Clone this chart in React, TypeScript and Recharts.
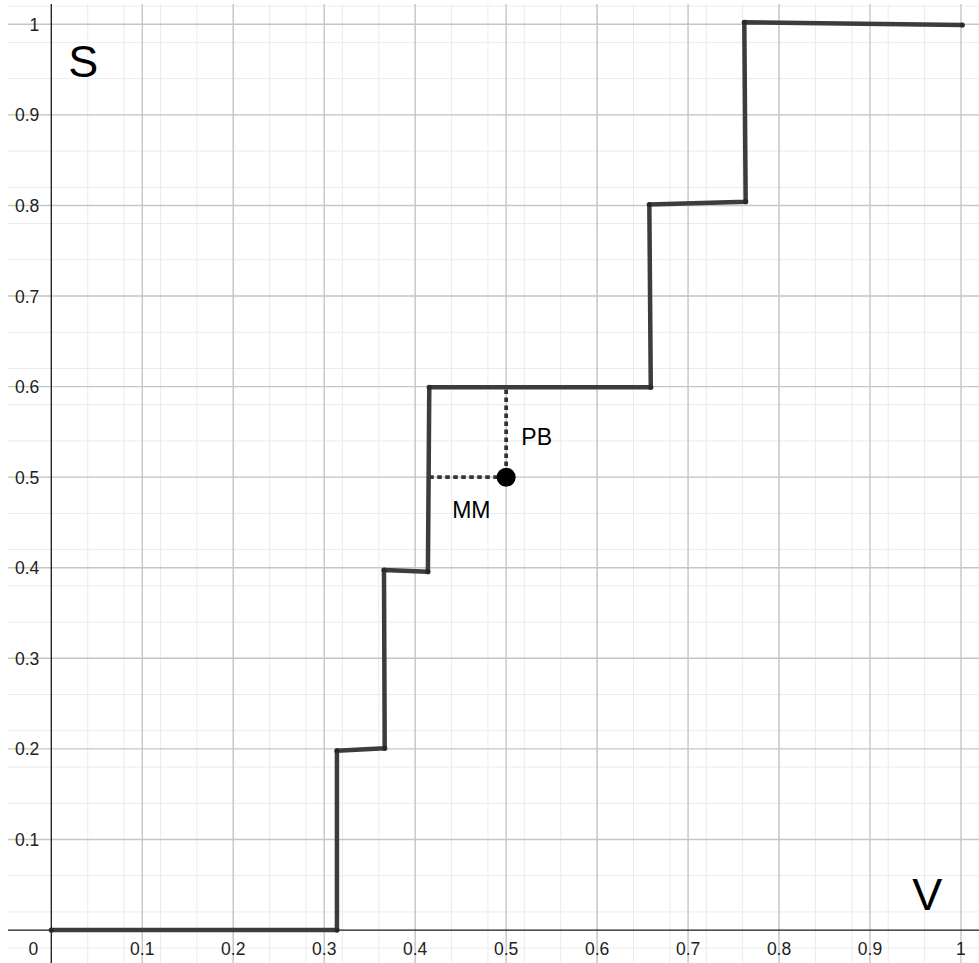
import { CartesianGrid, ComposedChart, Line, ReferenceLine, Scatter, XAxis, YAxis } from 'recharts';

// step curve S(V), corners
const stepV = [0, 0.314, 0.314, 0.3665, 0.3657, 0.414, 0.4155, 0.659, 0.6574, 0.7633, 0.7618, 1.0014];
const stepS = [0, 0, 0.198, 0.2006, 0.3975, 0.3956, 0.5992, 0.5992, 0.801, 0.8041, 1.0022, 0.9992];

// dotted guides MM / PB and the marked point
const guideV = [0.4155, 0.5, 0.5];
const guideS = [0.5, 0.5, 0.6];
const markV = [0.5];
const markS = [0.5];

const xTicks = [0.1, 0.2, 0.3, 0.4, 0.5, 0.6, 0.7, 0.8, 0.9, 1];
const xTickLabels = ['0.1', '0.2', '0.3', '0.4', '0.5', '0.6', '0.7', '0.8', '0.9', '1'];
const yTicks = [0.1, 0.2, 0.3, 0.4, 0.5, 0.6, 0.7, 0.8, 0.9, 1];
const yTickLabels = ['0.1', '0.2', '0.3', '0.4', '0.5', '0.6', '0.7', '0.8', '0.9', '1'];

const axisNames = ['S', 'V'];
const axisNameV = [0.035, 0.963];
const axisNameS = [0.96, 0.0397];

const pointNames = ['PB', 'MM'];
const pointNameV = [0.5336, 0.4617];
const pointNameS = [0.5454, 0.4643];

const stepData = stepV.map((x, i) => ({ x, y: stepS[i] }));
const guideData = guideV.map((x, i) => ({ x, y: guideS[i] }));
const markData = markV.map((x, i) => ({ x, y: markS[i] }));
const xLabelData = xTicks.map((x, i) => ({ x, y: 0, label: xTickLabels[i] }));
const yLabelData = yTicks.map((y, i) => ({ x: 0, y, label: yTickLabels[i] }));
const originData = [{ x: 0, y: 0, label: '0' }];
const axisNameData = axisNames.map((label, i) => ({ x: axisNameV[i], y: axisNameS[i], label }));
const pointNameData = pointNames.map((label, i) => ({ x: pointNameV[i], y: pointNameS[i], label }));

const majorX = [0.1, 0.2, 0.3, 0.4, 0.5, 0.6, 0.7, 0.8, 0.9, 1];
const majorY = [0.1, 0.2, 0.3, 0.4, 0.5, 0.6, 0.7, 0.8, 0.9, 1];
const minorX = Array.from({ length: 54 }, (_, i) => +(-0.04 + i * 0.02).toFixed(2));
const minorY = Array.from({ length: 53 }, (_, i) => +(-0.02 + i * 0.02).toFixed(2));

const FONT = '"Liberation Sans", Arial, Helvetica, sans-serif';

const XTickLabel = (props: any) => (
  <text x={props.cx} y={props.cy + 25} textAnchor="middle" fontSize={17.5} fontFamily={FONT} fill="#222">
    {props.payload.label}
  </text>
);

const YTickLabel = (props: any) => (
  <text x={props.cx - 12} y={props.cy + 6.5} textAnchor="end" fontSize={17.5} fontFamily={FONT} fill="#222">
    {props.payload.label}
  </text>
);

const OriginLabel = (props: any) => (
  <text x={props.cx - 18} y={props.cy + 25} textAnchor="middle" fontSize={17.5} fontFamily={FONT} fill="#222">
    {props.payload.label}
  </text>
);

const AxisName = (props: any) => (
  <text x={props.cx} y={props.cy + 16} textAnchor="middle" fontSize={45} fontFamily={FONT} fill="#000">
    {props.payload.label}
  </text>
);

const PointName = (props: any) => (
  <text x={props.cx} y={props.cy + 8.5} textAnchor="middle" fontSize={23} fontFamily={FONT} fill="#000">
    {props.payload.label}
  </text>
);

const Mark = (props: any) => <circle cx={props.cx} cy={props.cy} r={9.5} fill="#000" />;

export default function App() {
  return (
    <div style={{ position: 'absolute', left: 0, top: 0, width: 979, height: 963, background: '#fff' }}>
      <ComposedChart width={979} height={963} margin={{ top: 4, right: 0, bottom: 0, left: 8 }}>
        <XAxis type="number" dataKey="x" domain={[-0.0476, 1.0198]} allowDataOverflow hide />
        <YAxis type="number" dataKey="y" domain={[-0.0364, 1.0224]} allowDataOverflow hide />
        <CartesianGrid verticalValues={minorX} horizontalValues={minorY} stroke="#ebebeb" strokeWidth={1} />
        <CartesianGrid verticalValues={majorX} horizontalValues={majorY} stroke="#c6c6c6" strokeWidth={1.4} />
        <ReferenceLine x={0} stroke="#1a1a1a" strokeWidth={1.3} />
        <ReferenceLine y={0} stroke="#1a1a1a" strokeWidth={1.3} />
        <Scatter data={xLabelData} dataKey="y" shape={XTickLabel} isAnimationActive={false} />
        <Scatter data={yLabelData} dataKey="y" shape={YTickLabel} isAnimationActive={false} />
        <Scatter data={originData} dataKey="y" shape={OriginLabel} isAnimationActive={false} />
        <Line
          data={guideData}
          dataKey="y"
          type="linear"
          stroke="#333"
          strokeWidth={3.8}
          strokeDasharray="4.5 3.5"
          dot={false}
          isAnimationActive={false}
        />
        <Line
          data={stepData}
          dataKey="y"
          type="linear"
          stroke="#3c3c3c"
          strokeWidth={4.5}
          strokeLinejoin="round"
          dot={{ r: 2.6, fill: '#2a2a2a', stroke: 'none' }}
          isAnimationActive={false}
        />
        <Scatter data={markData} dataKey="y" shape={Mark} isAnimationActive={false} />
        <Scatter data={axisNameData} dataKey="y" shape={AxisName} isAnimationActive={false} />
        <Scatter data={pointNameData} dataKey="y" shape={PointName} isAnimationActive={false} />
      </ComposedChart>
    </div>
  );
}
